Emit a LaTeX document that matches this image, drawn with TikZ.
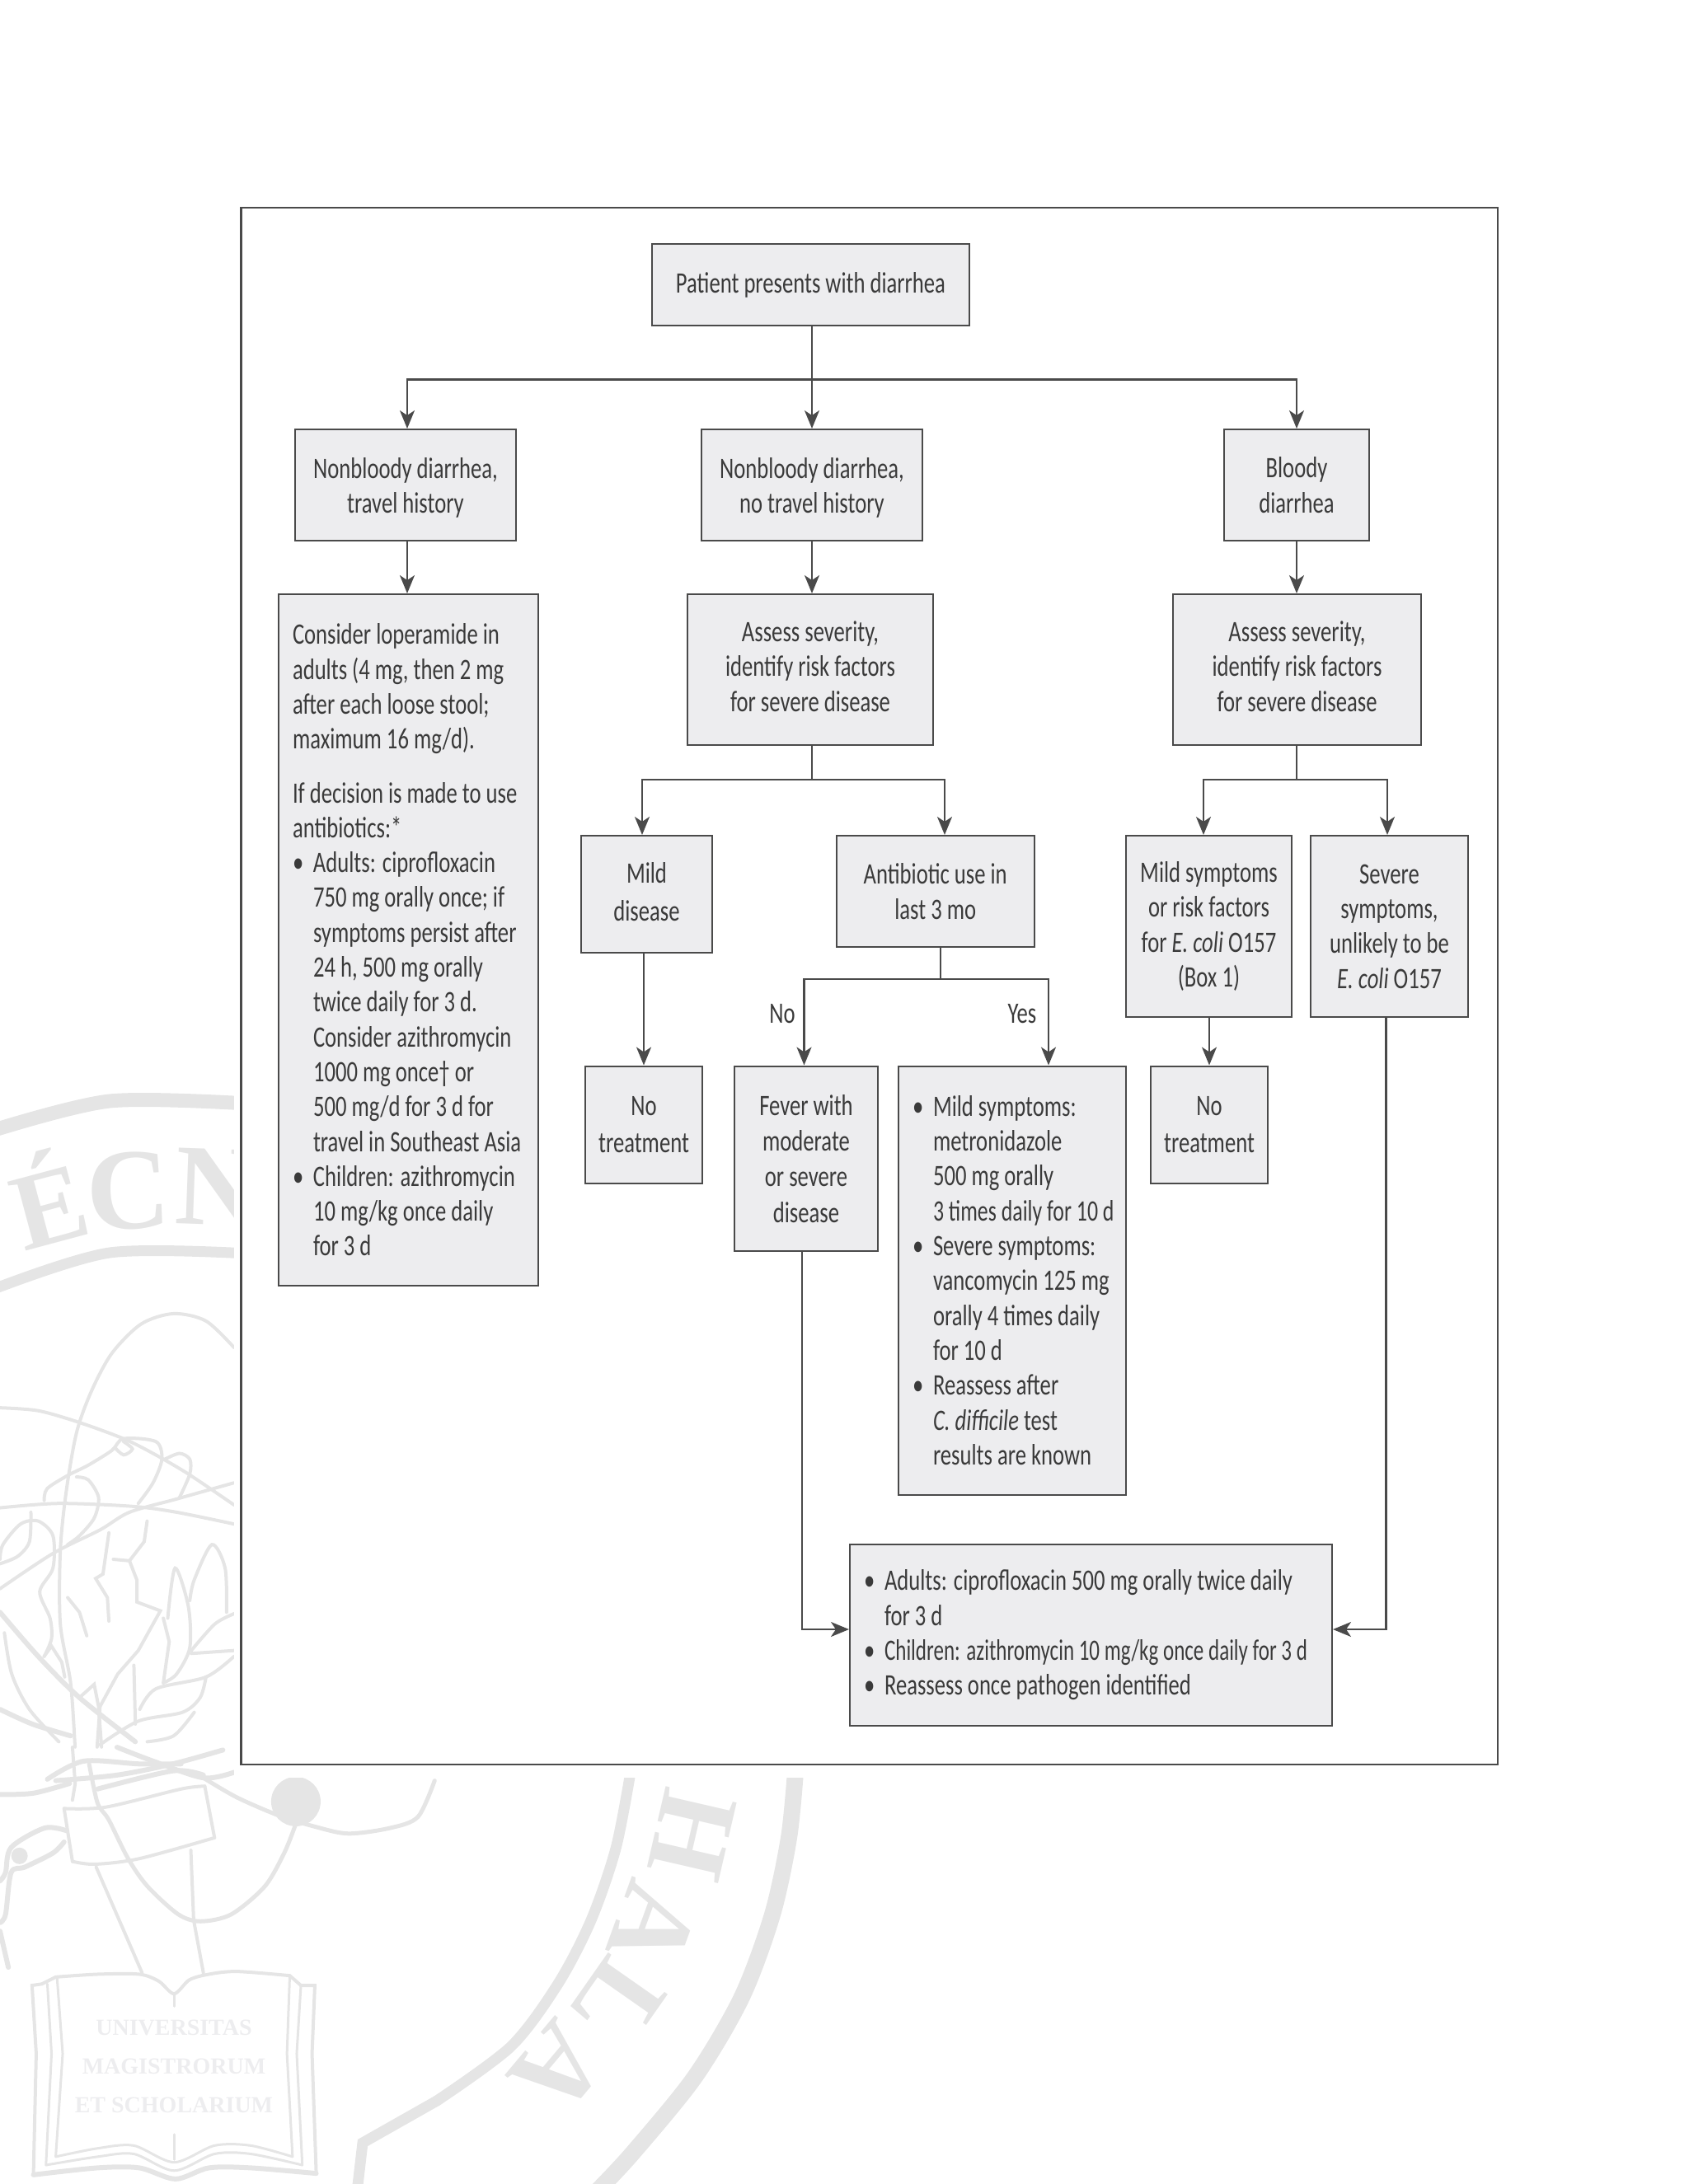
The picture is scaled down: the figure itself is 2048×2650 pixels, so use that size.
\documentclass[tikz,border=0pt]{standalone}
\usepackage{fontspec}
\setmainfont[FakeStretch=0.74]{Carlito}
\newfontfamily\wmfont{Liberation Serif}
\usetikzlibrary{arrows.meta,positioning,calc}
\definecolor{boxc}{HTML}{EDEDEF}
\definecolor{linec}{HTML}{4A4A4A}
\definecolor{textc}{HTML}{3A3A3A}
\definecolor{wmc}{HTML}{E5E5E5}
\newcommand{\bul}{\makebox[25pt][l]{•}}
\newcommand{\ind}{\hspace*{25pt}}

\begin{document}
\begin{tikzpicture}[x=1pt,y=-1pt,
    box/.style={draw=linec,fill=boxc,line width=2pt,align=center,text=textc,inner sep=0pt,
        font=\fontsize{36}{42.3}\selectfont},
    lbox/.style={box,align=flush left,inner xsep=17pt,text width=#1},
    line/.style={draw=linec,line width=2.2pt},
    arrow/.style={line,-{Stealth[length=22pt,width=18pt,inset=6pt]}},
    lab/.style={text=textc,inner sep=0pt,font=\fontsize{36}{42.3}\selectfont},
    wm/.style={draw=wmc,line width=#1,line cap=round},
    wm/.default=4pt,
    wmlet/.style={text=wmc,inner sep=0pt,font=\wmfont\bfseries\fontsize{#1}{#1}\selectfont}]

\useasboundingbox (0,0) rectangle (2048,2650);

% seal in the background
\draw[wm=17pt] plot[smooth] coordinates {(-10,1372) (133,1336) (300,1339)};
\draw[wm=13pt] plot[smooth] coordinates {(-10,1565) (133,1520) (300,1521)};
\draw[wm=20pt] plot[smooth] coordinates {(965,2150) (957,2230) (937,2323) (900,2423) (843,2520) (767,2613) (723,2660)};
\draw[wm=13pt] plot[smooth] coordinates {(765,2150) (747,2243) (717,2330) (677,2407) (620,2483) (530,2549)};
\draw[wm=13pt] (530,2549) -- (440,2600) -- (433,2660);
\node[wmlet=132,rotate=15] (wme) at (57,1452) {É};
\node[wmlet=140,rotate=3] (wmc) at (156,1445) {C};
\node[wmlet=140,rotate=-2] (wmn) at (264,1440) {N};
\node[wmlet=135,rotate=-103] (wmh) at (840,2227) {H};
\node[wmlet=135,rotate=-110] (wma) at (793,2337) {A};
\node[wmlet=135,rotate=-125] (wml) at (750,2430) {L};
\node[wmlet=135,rotate=-130] (wmb) at (677,2510) {A};
\begin{scope}[shift={(0,1560)},x=0.357pt,y=-0.357pt]
\draw[wm] plot[smooth] coordinates {(795,210) (700,120) (590,95) (480,130) (380,230) (310,360) (260,500) (225,700) (205,900) (205,1150) (240,1350) (255,1568)};
\draw[wm] plot[smooth] coordinates {(0,415) (130,425) (270,465) (420,520) (520,570) (640,640) (795,745)};
\draw[wm] plot[smooth] coordinates {(0,755) (200,740) (450,750) (600,770) (795,810)};
\draw[wm] plot[smooth] coordinates {(0,1030) (180,910) (340,830) (440,770) (600,725) (795,670)};
\draw[wm] plot[smooth] coordinates {(260,650) (300,660) (335,720) (320,790) (270,850) (230,880)};
\draw[wm] plot[smooth] coordinates {(150,730) (160,690) (230,645) (300,610) (380,560) (420,520) (530,530) (550,590) (520,670) (470,740)};
\draw[wm] plot[smooth] coordinates {(390,550) (420,575) (450,555) (420,530)};
\draw[wm] plot[smooth] coordinates {(560,590) (610,570) (645,590) (645,640) (610,720)};
\draw[wm] plot[smooth] coordinates {(0,930) (10,880) (70,810) (130,800) (180,850) (180,960) (135,1040) (170,1130) (175,1200) (150,1260)};
\draw[wm] plot[smooth] coordinates {(105,770) (100,870) (60,920) (0,945)};
\draw[wm] (370,840) -- (350,980) -- (325,995) -- (365,1060) -- (370,1140);
\draw[wm] (500,800) -- (490,870) -- (440,935) -- (385,930);
\draw[wm] (440,935) -- (465,1000) -- (465,1075) -- (545,1105) -- (470,1240) -- (400,1320) -- (340,1430) -- (330,1568);
\draw[wm] (230,1060) -- (270,1110) -- (295,1190);
\draw[wm] plot[smooth] coordinates {(570,1130) (595,960) (640,1090) (645,1230) (600,1320) (555,1350)};
\draw[wm] (555,1350) -- (575,1210) -- (555,1130);
\draw[wm] plot[smooth] coordinates {(645,1070) (660,1000) (720,880) (765,960) (770,1110)};
\draw[wm] plot[smooth] coordinates {(795,1115) (730,1150) (650,1240)};
\draw[wm] (795,1240) -- (650,1250);
\draw[wm] plot[smooth] coordinates {(795,1260) (700,1330) (530,1370) (475,1440)};
\draw[wm] (455,1290) -- (460,1490);
\draw[wm] plot[smooth] coordinates {(700,1330) (680,1400) (620,1450) (470,1480) (340,1560)};
\draw[wm] plot[smooth] coordinates {(660,1450) (590,1530) (500,1550)};
\draw[wm=6pt] plot[smooth] coordinates {(0,1110) (130,1260) (270,1400) (460,1550)};
\draw[wm] plot[smooth] coordinates {(15,1180) (40,1320) (100,1440) (200,1550)};
\draw[wm=6pt] plot[smooth] coordinates {(0,1440) (110,1490) (240,1530)};
\draw[wm] (150,1260) -- (175,1225) -- (210,1280) -- (220,1330);
\draw[wm] (270,1400) -- (320,1355) -- (335,1430) -- (345,1568);
\end{scope}
\begin{scope}[shift={(0,2120)},x=0.338pt,y=-0.338pt]
\draw[wm=6pt] plot[smooth] coordinates {(0,170) (120,165) (250,130)};
\draw[wm=6pt] plot[smooth] coordinates {(170,115) (300,50) (500,60) (650,60)};
\draw[wm=6pt] plot[smooth] coordinates {(200,120) (420,100) (620,60) (800,10)};
\draw[wm=6pt] plot[smooth] coordinates {(420,0) (550,50) (730,110) (840,90)};
\draw[wm] (260,0) -- (270,130) -- (260,190);
\draw[wm=5pt] plot[smooth] coordinates {(320,60) (350,200) (390,260) (460,400) (530,500) (640,600) (720,625) (830,600) (950,500) (1020,380) (1060,280)};
\draw[wm] plot[smooth] coordinates {(230,220) (380,215) (650,150) (735,140)};
\draw[wm] (230,220) -- (260,410);
\draw[wm] (735,140) -- (770,325);
\draw[wm] plot[smooth] coordinates {(260,410) (340,420) (500,400) (770,325)};
\draw[wm=6pt] plot[smooth] coordinates {(350,150) (620,85) (730,100)};
\draw[wm=5pt] plot[smooth] coordinates {(730,110) (850,180) (1000,245) (1130,285) (1250,310) (1400,290) (1500,250) (1560,120)};
\fill[wmc] (1062,195) circle [radius=30pt];
\draw[wm] (345,430) -- (510,810);
\draw[wm] (685,370) -- (695,620) -- (730,810);
\draw[wm=6pt] plot[smooth] coordinates {(240,300) (160,290) (40,360) (20,450) (0,480)};
\draw[wm=6pt] plot[smooth] coordinates {(230,340) (190,380) (90,430) (40,450) (20,600) (0,630)};
\draw[wm=6pt] (0,660) -- (30,790);
\fill[wmc] (70,390) circle [radius=10pt];
\draw[wm=4pt] plot[smooth] coordinates {(200,825) (350,815) (500,815) (570,840) (625,885) (680,835) (750,815) (850,805) (1040,820)};
\draw[wm=4pt] (200,825) -- (150,850) -- (115,855) -- (130,1100) -- (120,1535);
\draw[wm=4pt] (1040,820) -- (1080,855) -- (1130,855) -- (1120,1100) -- (1135,1530);
\draw[wm=6pt] plot[smooth] coordinates {(120,1535) (350,1510) (500,1510) (630,1550) (750,1510) (900,1510) (1135,1530)};
\draw[wm=3pt] plot[smooth] coordinates {(200,1470) (350,1440) (480,1430) (625,1490) (770,1430) (900,1430) (1050,1470)};
\draw[wm=3pt] plot[smooth] coordinates {(165,1500) (350,1470) (480,1460) (625,1520) (770,1460) (900,1460) (1085,1500)};
\draw[wm=3pt] (205,830) -- (225,1100) -- (200,1470);
\draw[wm=3pt] (1040,820) -- (1030,1100) -- (1050,1470);
\draw[wm=3pt] (170,850) -- (185,1100) -- (165,1500);
\draw[wm=3pt] (1080,855) -- (1065,1100) -- (1085,1500);
\draw[wm=3pt] (625,885) -- (625,930);
\draw[wm=3pt] (625,1390) -- (625,1480);
\end{scope}
\node[text=boxc,font=\wmfont\bfseries\fontsize{28}{47}\selectfont,align=center,inner sep=0pt] (book) at (211,2507) {UNIVERSITAS\\MAGISTRORUM\\ET SCHOLARIUM};
\fill[white] (284,0) rectangle (2060,2157);

\draw[draw=linec,line width=2.4pt] (292.4,252) rectangle (1816.8,2141);

\node[box,minimum width=385pt,minimum height=99pt] (start) at (983.5,345.5) {Patient presents with diarrhea};

\node[box,minimum width=268pt,minimum height=135pt] (travel) at (492,588.5) {\rule{0pt}{32pt}Nonbloody diarrhea,\\travel history};
\node[box,minimum width=268pt,minimum height=135pt] (notravel) at (985,588.5) {\rule{0pt}{32pt}Nonbloody diarrhea,\\no travel history};
\node[box,minimum width=176pt,minimum height=135pt] (bloody) at (1573,588.5) {Bloody\\diarrhea};

\node[lbox=281pt,minimum height=839pt] (loper) at (495.5,1140.5) {Consider loperamide in\\adults (4 mg, then 2 mg\\after each loose stool;\\maximum 16 mg/d).\\[23pt]
If decision is made to use\\antibiotics:*\\
\bul Adults: ciprofloxacin\\\ind 750 mg orally once; if\\\ind symptoms persist after\\\ind 24 h, 500 mg orally\\\ind twice daily for 3 d.\\\ind Consider azithromycin\\\ind 1000 mg once† or\\\ind 500 mg/d for 3 d for\\\ind travel in Southeast Asia\\
\bul Children: azithromycin\\\ind 10 mg/kg once daily\\\ind for 3 d};

\node[box,minimum width=298pt,minimum height=183pt] (assess) at (983,812.5) {Assess severity,\\identify risk factors\\for severe disease\rule[-8pt]{0pt}{8pt}};
\node[box,minimum width=301pt,minimum height=183pt] (assessb) at (1573.5,812.5) {Assess severity,\\identify risk factors\\for severe disease\rule[-8pt]{0pt}{8pt}};

\node[box,minimum width=159pt,minimum height=142pt] (mild) at (784.5,1085) {Mild\\[3pt]disease\rule[-6pt]{0pt}{6pt}};
\node[box,minimum width=239.5pt,minimum height=135pt] (abx) at (1134.75,1081.5) {Antibiotic use in\\last 3 mo};
\node[box,minimum width=201.5pt,minimum height=220pt] (mildb) at (1466.5,1124) {Mild symptoms\\or risk factors\\for \textit{E. coli} O157\\(Box 1)};
\node[box,minimum width=191pt,minimum height=220pt] (severe) at (1685.5,1124) {Severe\\symptoms,\\unlikely to be\\\textit{E. coli} O157};

\node[box,minimum width=142pt,minimum height=142pt] (none) at (781,1364.5) {No\\[3pt]treatment};
\node[box,minimum width=142pt,minimum height=142pt] (noneb) at (1467,1364.5) {No\\[3pt]treatment};
\node[box,minimum width=174pt,minimum height=224.5pt] (fever) at (978,1405.75) {Fever with\\[1pt]moderate\\[1pt]or severe\\[1pt]disease};
\node[lbox=242pt,minimum height=520pt] (sympt) at (1228,1553.5) {\bul Mild symptoms:\\\ind metronidazole\\\ind 500 mg orally\\\ind \scalebox{0.97}[1]{3 times daily for 10 d}\\
\bul Severe symptoms:\\\ind vancomycin 125 mg\\\ind orally 4 times daily\\\ind for 10 d\\
\bul Reassess after\\\ind \textit{C. difficile} test\\\ind results are known};
\node[lbox=551pt,minimum height=220pt] (treat) at (1323.5,1984) {\bul Adults: ciprofloxacin 500 mg orally twice daily\\\ind for 3 d\\
\bul \scalebox{0.94}[1]{Children: azithromycin 10 mg/kg once daily for 3 d}\\
\bul Reassess once pathogen identified};

\node[lab] (no) at (949,1230) {No};
\node[lab] (yes) at (1240,1230) {Yes};

\coordinate (tsplit) at (985,460.5);
\coordinate (tleft) at (494,460.5);
\coordinate (tright) at (1573,460.5);
\coordinate (bsplit) at (985,946);
\coordinate (bleft) at (779,946);
\coordinate (bright) at (1146,946);
\coordinate (csplit) at (1573,946);
\coordinate (cleft) at (1460,946);
\coordinate (cright) at (1683,946);
\coordinate (asplit) at (1141,1188);
\coordinate (aleft) at (975.5,1188);
\coordinate (aright) at (1272,1188);
\coordinate (fdown) at (973,1977);
\coordinate (sdown) at (1681.5,1977);

\draw[line] (start.south -| tsplit) -- (tsplit);
\draw[arrow] (tsplit) -- (tleft) -- (tleft |- travel.north);
\draw[arrow] (tsplit) -- (tsplit |- notravel.north);
\draw[arrow] (tsplit) -| (bloody.north);
\draw[arrow] (tleft |- travel.south) -- (tleft |- loper.north);
\draw[arrow] (notravel) -- (notravel |- assess.north);
\draw[arrow] (bloody) -- (bloody |- assessb.north);

\draw[line] (assess.south -| bsplit) -- (bsplit);
\draw[arrow] (bsplit) -| (bleft |- mild.north);
\draw[arrow] (bsplit) -| (bright |- abx.north);
\draw[arrow] (mild.south -| none) -- (none.north);

\draw[line] (abx.south -| asplit) -- (asplit);
\draw[arrow] (asplit) -| (aleft |- fever.north);
\draw[arrow] (asplit) -| (aright |- sympt.north);

\draw[line] (assessb.south -| csplit) -- (csplit);
\draw[arrow] (csplit) -| (cleft |- mildb.north);
\draw[arrow] (csplit) -| (cright |- severe.north);
\draw[arrow] (mildb.south -| noneb) -- (noneb.north);

\draw[arrow] (fever.south -| fdown) |- (fdown -| treat.west);
\draw[arrow] (severe.south -| sdown) |- (sdown -| treat.east);

\end{tikzpicture}
\end{document}
